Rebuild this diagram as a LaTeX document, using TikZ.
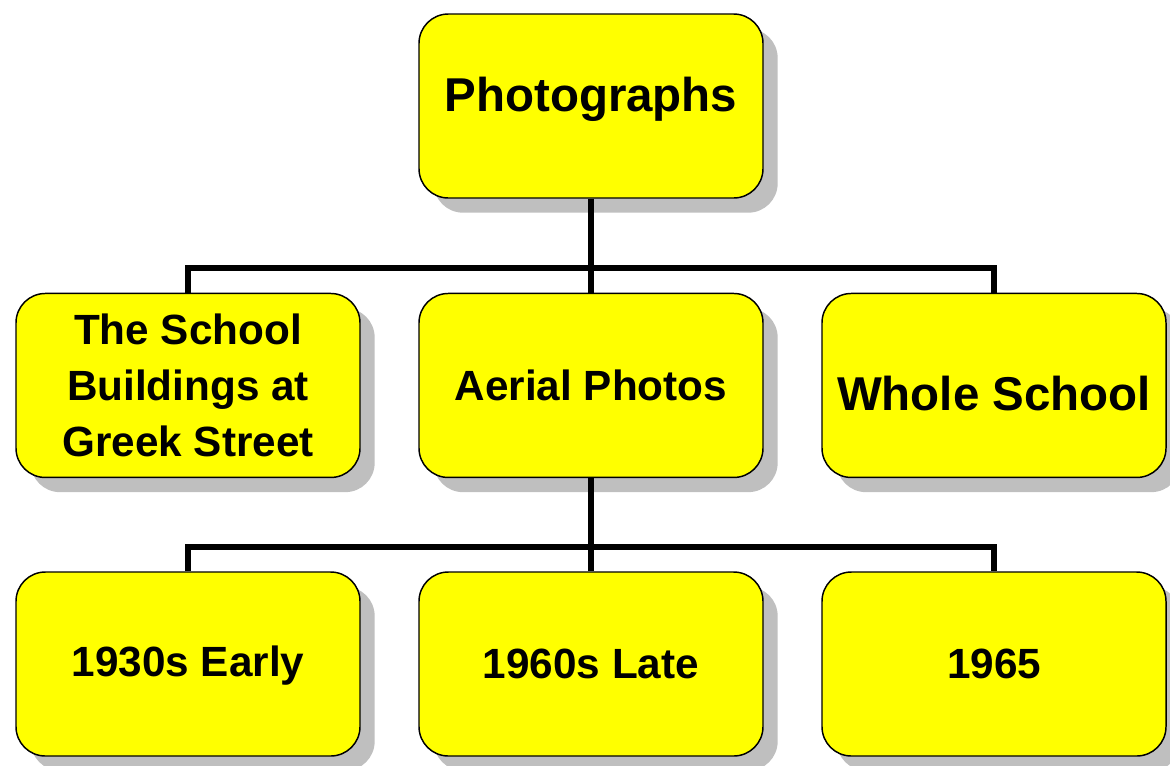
\documentclass[tikz,border=0pt]{standalone}
\usepackage{fontspec}
\setmainfont{Liberation Sans}
\usepackage{tikz}
\usetikzlibrary{positioning, shadows}
\definecolor{boxyellow}{RGB}{255,255,0}
\tikzset{
  box/.style={draw, line width=1.1pt, fill=boxyellow, rounded corners=22pt,
    minimum width=258pt, minimum height=138pt, align=center,
    font=\bfseries\fontsize{31.7}{42}\selectfont,
    drop shadow={shadow xshift=11pt, shadow yshift=-11pt, fill=black!25, opacity=1}},
  big/.style={font=\bfseries\fontsize{35.6}{44}\selectfont},
  link/.style={line width=4.5pt}
}

\begin{document}
\begin{tikzpicture}
\useasboundingbox (0,0) rectangle (877.5pt,-573.75pt);
\coordinate (bus1) at (0,-201pt);
\coordinate (bus2) at (0,-410.25pt);

\node [box, big, text depth=18pt] (photo) at (443.25pt,-79.5pt) {Photographs};

\node [box] (aerial) at (443.25pt,-289.1pt) {Aerial Photos};
\node [box, xshift=-302.25pt] (school) at (aerial) {The School\\ Buildings at\\ Greek Street};
\node [box, big, text height=38pt, xshift=302.25pt] (whole) at (aerial) {Whole School};

\node [box] (late) at (443.25pt,-498pt) {1960s Late};
\node [box, text depth=3.5pt, xshift=-302.25pt] (early) at (late) {1930s Early};
\node [box, xshift=302.25pt] (year) at (late) {1965};

\draw[link] (photo.south) -- (photo.south |- bus1);
\draw[link] (school.north) |- (whole.north |- bus1) -- (whole.north);
\draw[link] (aerial.north) -- (aerial.north |- bus1);

\draw[link] (aerial.south) -- (aerial.south |- bus2);
\draw[link] (early.north) |- (year.north |- bus2) -- (year.north);
\draw[link] (late.north) -- (late.north |- bus2);
\end{tikzpicture}
\end{document}
